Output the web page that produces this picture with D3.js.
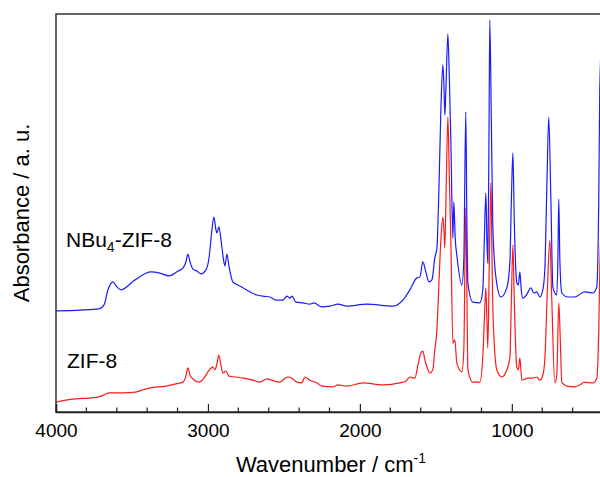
<!DOCTYPE html>
<html>
<head>
<meta charset="utf-8">
<script src="https://cdn.jsdelivr.net/npm/d3@7"></script>
<style>
  body { margin: 0; background: #fff; }
  text { font-family: "Liberation Sans", Arial, sans-serif; fill: #000; }
</style>
</head>
<body>
<svg id="chart"></svg>
<script>
var w = 600;
var h = 477;

// NBu4-ZIF-8 spectrum (blue)
var nbuWavenumber = [4000, 3842, 3717, 3684, 3658, 3625, 3605, 3572, 3480, 3375, 3316, 3257, 3197, 3164, 3145, 3132, 3118, 3099, 3072, 3046,
    3013, 2993, 2974, 2961, 2947, 2941, 2928, 2914, 2895, 2888, 2875, 2862, 2836, 2803, 2770, 2724, 2678, 2638, 2592, 2553,
    2507, 2480, 2461, 2447, 2421, 2375, 2329, 2303, 2250, 2197, 2145, 2086, 1954, 1783, 1717, 1671, 1625, 1605, 1586, 1566,
    1546, 1526, 1507, 1493, 1480, 1467, 1454, 1447, 1441, 1434, 1421, 1411, 1401, 1388, 1382, 1372, 1362, 1329, 1316, 1303,
    1296, 1289, 1257, 1211, 1191, 1181, 1171, 1164, 1158, 1151, 1145, 1135, 1125, 1105, 1072, 1033, 1013, 1003, 993, 984,
    967, 957, 947, 938, 928, 901, 875, 855, 836, 816, 796, 783, 770, 757, 743, 730, 704, 697, 691, 684,
    671, 632, 586, 520, 467, 441, 428, 421, 401];
var nbuAbsorbance = [0.254, 0.256, 0.259, 0.269, 0.307, 0.327, 0.317, 0.307, 0.332, 0.352, 0.349, 0.342, 0.354, 0.362, 0.377, 0.397, 0.377, 0.359, 0.354, 0.347,
    0.357, 0.387, 0.457, 0.490, 0.457, 0.450, 0.465, 0.432, 0.377, 0.367, 0.397, 0.367, 0.327, 0.319, 0.312, 0.302, 0.294, 0.291, 0.289, 0.281,
    0.281, 0.291, 0.286, 0.291, 0.276, 0.274, 0.271, 0.274, 0.264, 0.266, 0.271, 0.266, 0.271, 0.266, 0.281, 0.307, 0.337, 0.339, 0.377, 0.352,
    0.327, 0.332, 0.387, 0.412, 0.558, 0.759, 0.872, 0.822, 0.746, 0.809, 0.950, 0.834, 0.676, 0.437, 0.528, 0.432, 0.394, 0.319, 0.382, 0.754,
    0.482, 0.324, 0.276, 0.274, 0.307, 0.432, 0.550, 0.432, 0.374, 0.658, 0.985, 0.734, 0.465, 0.339, 0.289, 0.312, 0.374, 0.533, 0.651, 0.482,
    0.324, 0.319, 0.352, 0.307, 0.286, 0.296, 0.312, 0.299, 0.302, 0.289, 0.307, 0.357, 0.558, 0.741, 0.533, 0.314, 0.294, 0.382, 0.535, 0.382,
    0.299, 0.289, 0.289, 0.302, 0.299, 0.314, 0.533, 0.817, 0.985];

// ZIF-8 spectrum (red)
var zifWavenumber = [4000, 3934, 3868, 3783, 3717, 3684, 3651, 3605, 3559, 3474, 3434, 3388, 3276, 3217, 3164, 3145, 3132, 3118, 3099, 3059,
    3026, 3000, 2967, 2954, 2941, 2928, 2914, 2901, 2882, 2862, 2816, 2763, 2704, 2658, 2612, 2566, 2526, 2493, 2474, 2447,
    2414, 2382, 2362, 2329, 2283, 2250, 2178, 2145, 2086, 1980, 1849, 1737, 1697, 1671, 1638, 1618, 1599, 1586, 1572, 1559,
    1539, 1520, 1507, 1493, 1487, 1467, 1454, 1447, 1441, 1431, 1421, 1411, 1401, 1388, 1375, 1362, 1329, 1316, 1303, 1296,
    1289, 1257, 1211, 1191, 1181, 1171, 1164, 1158, 1148, 1138, 1132, 1125, 1099, 1066, 1033, 1013, 1003, 993, 984, 967,
    957, 947, 934, 895, 862, 836, 816, 796, 783, 766, 750, 737, 717, 704, 691, 681, 671, 638, 586, 553,
    520, 467, 441, 428, 421, 401];
var zifAbsorbance = [0.025, 0.030, 0.033, 0.035, 0.038, 0.043, 0.048, 0.048, 0.048, 0.050, 0.055, 0.060, 0.065, 0.070, 0.075, 0.090, 0.111, 0.093, 0.083, 0.075,
    0.085, 0.101, 0.113, 0.106, 0.121, 0.143, 0.116, 0.098, 0.103, 0.090, 0.088, 0.085, 0.080, 0.075, 0.083, 0.078, 0.075, 0.085, 0.088, 0.085,
    0.075, 0.073, 0.088, 0.080, 0.073, 0.065, 0.063, 0.068, 0.065, 0.073, 0.068, 0.073, 0.078, 0.088, 0.085, 0.118, 0.148, 0.153, 0.131, 0.113,
    0.098, 0.106, 0.156, 0.206, 0.256, 0.432, 0.490, 0.457, 0.412, 0.583, 0.741, 0.583, 0.425, 0.173, 0.181, 0.123, 0.101, 0.156, 0.513, 0.307,
    0.106, 0.075, 0.075, 0.138, 0.231, 0.312, 0.231, 0.161, 0.382, 0.575, 0.432, 0.256, 0.106, 0.088, 0.106, 0.136, 0.281, 0.420, 0.281, 0.111,
    0.106, 0.136, 0.080, 0.085, 0.085, 0.088, 0.080, 0.093, 0.131, 0.307, 0.432, 0.281, 0.073, 0.093, 0.274, 0.181, 0.075, 0.065, 0.063, 0.068,
    0.075, 0.073, 0.085, 0.206, 0.357, 0.533];

var majorTicks = [4000, 3000, 2000, 1000];
var minorTicks = [3800, 3600, 3400, 3200, 2800, 2600, 2400, 2200, 1800, 1600, 1400, 1200, 800, 600];
var seriesLabels = ["NBu", "4", "-ZIF-8"];
var zifLabel = "ZIF-8";

var margin = { top: 14, left: 56, bottom: 65 };
var plotRight = 603;

function plot() {
    var svg = d3.select("#chart")
        .attr("width", w)
        .attr("height", h);

    var x = d3.scaleLinear()
        .domain([4000, 400])
        .range([margin.left, plotRight]);
    var y = d3.scaleLinear()
        .domain([0, 1])
        .range([h - margin.bottom, margin.top]);

    svg.append("clipPath")
        .attr("id", "clip")
        .append("rect")
        .attr("x", margin.left)
        .attr("y", margin.top)
        .attr("width", plotRight - margin.left)
        .attr("height", h - margin.bottom - margin.top);

    //monotone keeps the narrow peaks rounded without overshoot
    var line = d3.line()
        .curve(d3.curveMonotoneX)
        .x(d => x(d[0]))
        .y(d => y(d[1]));

    var nbu = nbuWavenumber.map((v, i) => [v, nbuAbsorbance[i]]);
    var zif = zifWavenumber.map((v, i) => [v, zifAbsorbance[i]]);

    svg.append("path")
        .datum(zif)
        .attr("clip-path", "url(#clip)")
        .attr("fill", "none")
        .attr("stroke", "#ff1a1a")
        .attr("stroke-width", 1.2)
        .attr("stroke-linejoin", "round")
        .attr("d", line);

    svg.append("path")
        .datum(nbu)
        .attr("clip-path", "url(#clip)")
        .attr("fill", "none")
        .attr("stroke", "#1a1aff")
        .attr("stroke-width", 1.2)
        .attr("stroke-linejoin", "round")
        .attr("d", line);

    //frame
    svg.append("rect")
        .attr("x", margin.left)
        .attr("y", margin.top)
        .attr("width", plotRight - margin.left)
        .attr("height", h - margin.bottom - margin.top)
        .attr("fill", "none")
        .attr("stroke", "#333")
        .attr("stroke-width", 1.5);

    //bottom axis, ticks pointing inward
    var axis = svg.append("g")
        .attr("transform", `translate(0,${h - margin.bottom})`);
    axis.call(d3.axisBottom(x).tickValues(majorTicks).tickSize(-8).tickFormat(d3.format("d")));
    axis.select(".domain").attr("stroke", "#222").attr("stroke-width", 1.5);
    axis.selectAll(".tick line").attr("stroke", "#222").attr("stroke-width", 1.2);
    axis.selectAll(".tick text")
        .attr("y", 12)
        .attr("dy", "0.71em")
        .style("font-family", "'Liberation Sans', Arial, sans-serif")
        .style("font-size", "19px");
    axis.selectAll(".minor")
        .data(minorTicks)
        .enter()
        .append("line")
        .attr("class", "minor")
        .attr("x1", d => x(d))
        .attr("x2", d => x(d))
        .attr("y1", 0)
        .attr("y2", -4.5)
        .attr("stroke", "#222")
        .attr("stroke-width", 1.2);

    //axis titles
    var xt = svg.append("text")
        .attr("x", 331)
        .attr("y", 472)
        .attr("text-anchor", "middle")
        .style("font-size", "22px");
    xt.append("tspan").text("Wavenumber / cm");
    xt.append("tspan").attr("dy", -9).style("font-size", "14px").text("-1");

    svg.append("text")
        .attr("transform", "translate(29,213) rotate(-90)")
        .attr("text-anchor", "middle")
        .style("font-size", "22px")
        .text("Absorbance / a. u.");

    //series labels
    var nl = svg.append("text")
        .attr("x", 66)
        .attr("y", 247)
        .style("font-size", "21px");
    nl.append("tspan").text(seriesLabels[0]);
    nl.append("tspan").attr("dy", 5).style("font-size", "14px").text(seriesLabels[1]);
    nl.append("tspan").attr("dy", -5).text(seriesLabels[2]);

    svg.append("text")
        .attr("x", 67)
        .attr("y", 368)
        .style("font-size", "21px")
        .text(zifLabel);
}

plot();
</script>
</body>
</html>
